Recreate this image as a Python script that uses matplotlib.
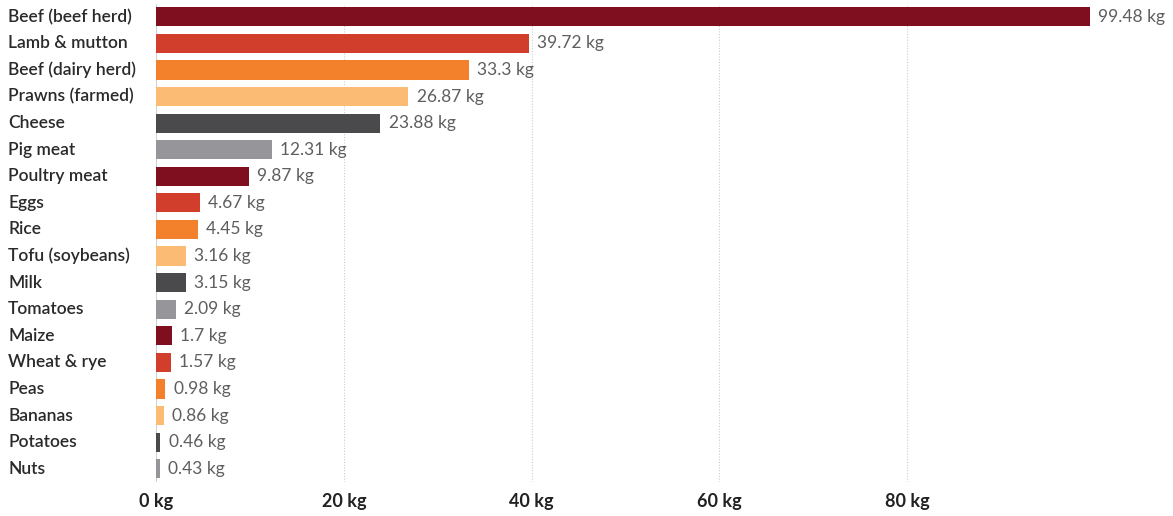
import matplotlib
matplotlib.use("Agg")
import matplotlib.pyplot as plt
import matplotlib.transforms as mtransforms

# Greenhouse gas emissions per kg of food product
foods = ["Beef (beef herd)", "Lamb & mutton", "Beef (dairy herd)", "Prawns (farmed)",
         "Cheese", "Pig meat", "Poultry meat", "Eggs", "Rice", "Tofu (soybeans)",
         "Milk", "Tomatoes", "Maize", "Wheat & rye", "Peas", "Bananas",
         "Potatoes", "Nuts"]
emissions = [99.48, 39.72, 33.3, 26.87, 23.88, 12.31, 9.87, 4.67, 4.45, 3.16,
             3.15, 2.09, 1.7, 1.57, 0.98, 0.86, 0.46, 0.43]
ticks = [0, 20, 40, 60, 80]
palette = ["#7f0f1e", "#d13f2c", "#f3812c", "#fbbb74", "#4a4a4c", "#96969a"]

plt.rcParams["font.family"] = ["Lato", "DejaVu Sans"]

fig = plt.figure(figsize=(11.73, 5.16), dpi=100)
W, H = 1173, 516
ax = fig.add_axes([156 / W, 1 - 482 / H, (W - 156) / W, (482 - 3.5) / H])

ypos = list(range(len(foods)))
colors = [palette[i % len(palette)] for i in ypos]
ax.barh(ypos, emissions, height=0.72, color=colors, zorder=3)

ax.set_xlim(0, (W - 156) / 9.39)
ax.set_ylim(len(foods) - 0.5, -0.5)

# grid lines
for t in ticks[1:]:
    ax.axvline(t, color="#cccccc", lw=0.8, ls=(0, (1, 1.5)), zorder=1)
ax.axvline(0, color="#d0d0d0", lw=1.5, zorder=2)

for s in ax.spines.values():
    s.set_visible(False)
ax.set_xticks([])
ax.set_yticks([])

# value labels
for y, v in zip(ypos, emissions):
    ax.annotate(f"{v:g} kg", (v, y), xytext=(6, 0), textcoords="offset points",
                va="center", ha="left", fontsize=12.5, color="#5e5e5e",
                annotation_clip=False)

# category labels
trans = mtransforms.blended_transform_factory(fig.transFigure, ax.transData)
for y, name in zip(ypos, foods):
    fig.text(8 / W, y, name, transform=trans, ha="left", va="center",
             fontsize=12.5, color="#2a2a2a", fontweight="semibold")

# x tick labels
trans_x = mtransforms.blended_transform_factory(ax.transData, fig.transFigure)
for t in ticks:
    fig.text(t, 1 - 501 / H, f"{t} kg", transform=trans_x, ha="center", va="center",
             fontsize=13, color="#222222", fontweight="bold")

fig.savefig("out.png", dpi=100, facecolor="white")
